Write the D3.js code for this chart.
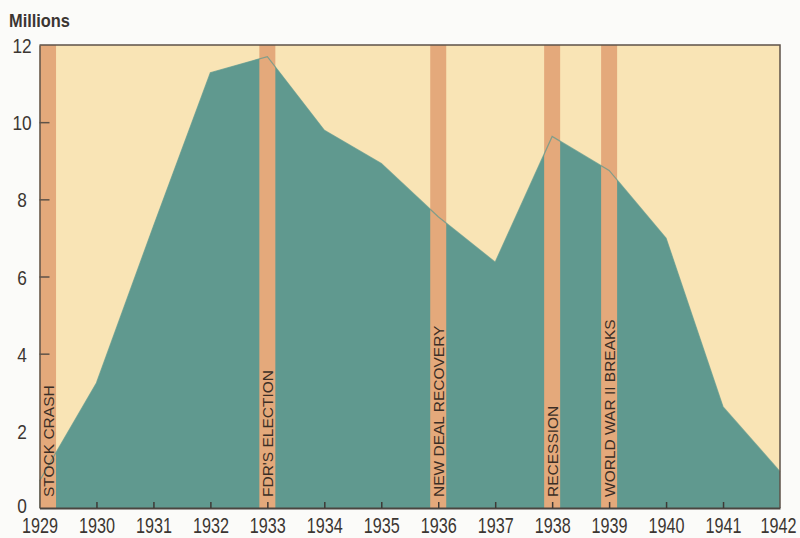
<!DOCTYPE html>
<html>
<head>
<meta charset="utf-8">
<script src="https://cdn.jsdelivr.net/npm/d3@7"></script>
<style>
  html, body { margin: 0; padding: 0; background: #fbfbf9; }
  svg { display: block; }
</style>
</head>
<body>
<svg id="chart" width="800" height="538"></svg>
<script>
// Unemployment in the United States, 1929–1942 (millions of people)
const years = [1929, 1930, 1931, 1932, 1933, 1934, 1935, 1936, 1937, 1938, 1939, 1940, 1941, 1942];
const unemployed = [0.7, 3.24, 7.3, 11.28, 11.7, 9.79, 8.93, 7.55, 6.37, 9.63, 8.75, 6.99, 2.62, 0.94];

// Historical events marked with vertical bands
const eventDates = [1929.15, 1933, 1936, 1938, 1939];
const eventNames = ["STOCK CRASH", "FDR'S ELECTION", "NEW DEAL RECOVERY", "RECESSION", "WORLD WAR II BREAKS"];

// Axis ticks
const yTicks = [0, 2, 4, 6, 8, 10, 12];
const xTicks = years;

const W = 800, H = 538;
const margin = { top: 45, right: 20, bottom: 30, left: 39.5 };
const svg = d3.select("#chart");

const x = d3.scaleLinear().domain([1929, 1942]).range([margin.left, W - margin.right]);
const y = d3.scaleLinear().domain([0, 12]).range([H - margin.bottom, margin.top]);

const colors = {
  paper: "#f9e4b5",
  area: "#60998f",
  band: "#e4a97b",
  frame: "#5e5248",
  text: "#3b3632",
  label: "#3a2e26"
};

const font = "'Liberation Sans', Arial, sans-serif";
// condensed look for the numerals: each digit squeezed to a fixed advance
const digitWidth = 9.0;

// plot background
svg.append("rect")
  .attr("x", x(1929)).attr("y", y(12))
  .attr("width", x(1942) - x(1929)).attr("height", y(0) - y(12))
  .attr("fill", colors.paper);

const series = years.map((yr, i) => ({ year: yr, value: unemployed[i] }));

// unemployment area
const area = d3.area()
  .x(d => x(d.year))
  .y0(y(0))
  .y1(d => y(d.value));

svg.append("path")
  .datum(series)
  .attr("d", area)
  .attr("fill", colors.area);

// event bands
const bandWidth = 16;
const events = eventDates.map((d, i) => ({ date: d, name: eventNames[i] }));

svg.selectAll("rect.band")
  .data(events)
  .enter().append("rect")
  .attr("class", "band")
  .attr("x", d => x(d.date) - bandWidth / 2)
  .attr("y", y(12))
  .attr("width", bandWidth)
  .attr("height", y(0) - y(12))
  .attr("fill", colors.band);

// faint outline of the area running across the bands
const line = d3.line().x(d => x(d.year)).y(d => y(d.value));
svg.append("path")
  .datum(series)
  .attr("d", line)
  .attr("fill", "none")
  .attr("stroke", colors.area)
  .attr("stroke-width", 1.2)
  .attr("stroke-opacity", 0.75);

// frame: top and right edges
svg.append("path")
  .attr("d", `M${x(1929)},${y(12)}H${x(1942)}V${y(0)}`)
  .attr("fill", "none")
  .attr("stroke", colors.frame)
  .attr("stroke-width", 1.5);

// left axis with inward ticks
const yAxis = d3.axisLeft(y)
  .tickValues(yTicks)
  .tickSizeInner(-10)
  .tickSizeOuter(0)
  .tickFormat(d3.format("d"));

const gy = svg.append("g")
  .attr("transform", `translate(${margin.left},0)`)
  .call(yAxis);
gy.select(".domain").attr("stroke", colors.frame).attr("stroke-width", 1.5);
gy.selectAll(".tick line")
  .attr("stroke", colors.frame)
  .attr("stroke-width", 1.5)
  .attr("display", d => (d === 0 || d === 2 || d === 12) ? "none" : null);
gy.selectAll(".tick text")
  .attr("x", -17.5)
  .attr("dy", d => d === 0 ? "0.2em" : "0.36em")
  .attr("text-anchor", "middle")
  .attr("font-family", font)
  .attr("font-size", 21)
  .attr("textLength", d => String(d).length * 9.6)
  .attr("lengthAdjust", "spacingAndGlyphs")
  .attr("fill", colors.text);

// bottom axis with inward ticks
const xAxis = d3.axisBottom(x)
  .tickValues(xTicks)
  .tickSizeInner(-6)
  .tickSizeOuter(0)
  .tickFormat(d3.format("d"));

const gx = svg.append("g")
  .attr("transform", `translate(0,${y(0)})`)
  .call(xAxis);
gx.select(".domain").attr("stroke", "#4a4540").attr("stroke-width", 2);
gx.selectAll(".tick line")
  .attr("stroke", "#3e3a36")
  .attr("stroke-width", 1.5)
  .attr("display", d => (d === 1929 || d === 1942) ? "none" : null);
gx.selectAll(".tick text")
  .attr("y", 25)
  .attr("dy", 0)
  .attr("dx", d => d === 1942 ? -2 : 0)
  .attr("font-family", font)
  .attr("font-size", 21.5)
  .attr("textLength", d => String(d).length * digitWidth)
  .attr("lengthAdjust", "spacingAndGlyphs")
  .attr("fill", colors.text);

// vertical event labels
svg.selectAll("text.event")
  .data(events)
  .enter().append("text")
  .attr("class", "event")
  .attr("transform", d => `translate(${x(d.date) + 5.5},${y(0) - 11}) rotate(-90)`)
  .attr("text-anchor", "start")
  .attr("font-family", font)
  .attr("font-size", 15.5)
  .attr("fill", colors.label)
  .text(d => d.name);

// unit label
svg.append("text")
  .attr("x", 9)
  .attr("y", 27)
  .attr("font-family", font)
  .attr("font-weight", "bold")
  .attr("font-size", 18.5)
  .attr("textLength", 61)
  .attr("lengthAdjust", "spacingAndGlyphs")
  .attr("fill", colors.text)
  .text("Millions");
</script>
</body>
</html>
